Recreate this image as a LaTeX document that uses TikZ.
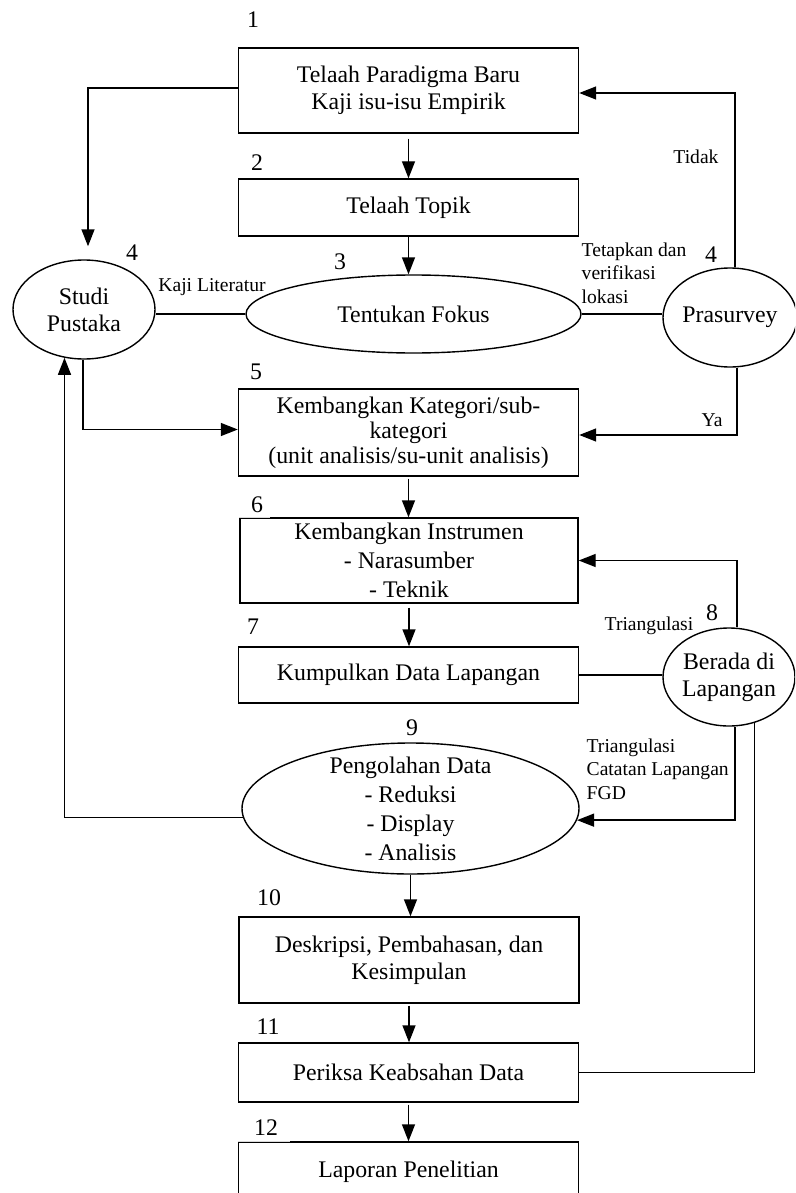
\documentclass[tikz,border=0pt]{standalone}
\usepackage{fontspec}
\setmainfont{Liberation Serif}
\usetikzlibrary{arrows.meta,shapes.geometric,calc}
\newcommand\mainf{\fontsize{23.8}{27}\selectfont}
\newcommand\smallf{\fontsize{19.6}{23.5}\selectfont}
\begin{document}
\begin{tikzpicture}[x=1pt,y=-1pt,line width=1.4pt,
  box/.style={draw,rectangle,minimum width=340pt,inner sep=0pt,align=center,font=\mainf},
  ell/.style={draw,ellipse,inner sep=0pt},
  etext/.style={inner sep=0pt,align=center,font=\mainf},
  num/.style={font=\mainf,inner sep=0pt},
  lbl/.style={font=\smallf,inner sep=0pt},
  arr/.style={-{Triangle[length=17pt,width=13pt]}},
  gapline/.style={draw=white,line width=1.8pt},
]
\useasboundingbox (0,0) rectangle (795,1193);
\clip (0,0) rectangle (795,1193);

% boxes
\node[box,minimum height=85pt] (b1) at (408.5,90.5) {Telaah Paradigma Baru\\Kaji isu-isu Empirik};
\node[box,minimum height=57pt] (b2) at (408.5,207.5) {Telaah Topik};
\node[box,minimum height=87pt,font=\fontsize{23.8}{25}\selectfont] (b5) at (408.5,432.5) {Kembangkan Kategori/sub-\\kategori\\(unit analisis/su-unit analisis)};
\node[box,minimum width=338pt,minimum height=85pt,font=\fontsize{23.8}{29}\selectfont] (b6) at (409,560.5) {Kembangkan Instrumen\\- Narasumber\\- Teknik};
\node[box,minimum height=56pt] (b7) at (408.5,675) {Kumpulkan Data Lapangan};
\node[box,minimum height=86pt] (b10) at (409,960) {Deskripsi, Pembahasan, dan\\Kesimpulan};
\node[box,minimum height=59pt] (b11) at (408.5,1072.5) {Periksa Keabsahan Data};
\node[box,minimum height=60pt] (b12) at (408.5,1172) {Laporan Penelitian};

% ellipses
\node[ell,minimum width=335pt,minimum height=78pt] (e3) at (413.5,314) {};
\node[etext] (e3t) at (e3) {Tentukan Fokus};
\node[ell,minimum width=142pt,minimum height=99pt] (sp) at (84,309.5) {};
\node[etext] (spt) at (sp) {Studi\\Pustaka};
\node[ell,minimum width=134pt,minimum height=99pt] (ps) at (730,317.5) {};
\node[etext] (pst) at (ps) {Prasurvey};
\node[ell,minimum width=132pt,minimum height=98pt] (bl) at (729,677) {};
\node[etext] (blt) at (bl) {Berada di\\Lapangan};
\node[ell,minimum width=337pt,minimum height=131pt] (pe) at (410.5,808.5) {};
\node[etext,font=\fontsize{23.8}{29}\selectfont] (pet) at (pe) {Pengolahan Data\\- Reduksi\\- Display\\- Analisis};

% border gaps behind numbers
\draw[gapline] (b6.north west) -- ++(31,0);
\draw[gray!30,line width=0.8pt] (b6.north west) -- ++(31,0);
\draw[gapline] (b12.north west) -- ++(52,0);
\draw[gray!30,line width=0.8pt] (b12.north west) -- ++(52,0);

% numbers
\node[num] (n1) at (253,20) {1};
\node[num] (n2) at (257,163) {2};
\node[num] (n3) at (340,262) {3};
\node[num] (n4a) at (132,253) {4};
\node[num] (n4b) at (711,255) {4};
\node[num] (n5) at (256,372) {5};
\node[num] (n6) at (257,505) {6};
\node[num] (n7) at (253,627) {7};
\node[num] (n8) at (712,613) {8};
\node[num] (n9) at (412,728) {9};
\node[num] (n10) at (269,898) {10};
\node[num] (n11) at (268,1027) {11};
\node[num] (n12) at (266,1128) {12};

% labels
\node[lbl] (lkaji) at (212,287) {Kaji Literatur};
\node[lbl,align=left,anchor=north west] (ltet) at (581,242) {Tetapkan dan\\verifikasi\\lokasi};
\node[lbl] (ltidak) at (696,157) {Tidak};
\node[lbl] (lya) at (712,420) {Ya};
\node[lbl] (ltri) at (649,626) {Triangulasi};
\node[lbl,align=left,anchor=north west] (ltri2) at (586,738) {Triangulasi\\Catatan Lapangan\\FGD};

% main flow
\draw[arr,shorten <=5pt] (b1.south) -- (b1.south |- b2.north);
\draw[arr] (b2.south) -- (b2.south |- e3.north);
\draw[arr,shorten <=2pt] (b5.south) -- (b5.south |- b6.north);
\draw[arr,shorten <=4pt] (b6.south) -- (b6.south |- b7.north);
\draw[arr] (pe.south) -- (pe.south |- b10.north);
\draw[arr,shorten <=2pt] (b10.south) -- (b10.south |- b11.north);
\draw[arr,shorten <=2pt] (b11.south) -- (b11.south |- b12.north);

% Studi Pustaka connections
\draw[arr,shorten >=13pt] ([yshift=2.5pt]b1.west) -| ([xshift=4pt]sp.north);
\draw (e3.west) -- (e3.west -| sp.east);
\draw[arr] ([xshift=-1pt]sp.south) |- ([yshift=3pt]b5.west);
\draw[arr] (pe.183) -| (sp.248);

% Prasurvey connections
\draw (e3.east) -- (e3.east -| ps.west);
\draw[arr] ([xshift=5pt]ps.north) |- ([yshift=-2.5pt]b1.east);
\draw[arr] ([xshift=7pt]ps.south) |- ([yshift=-2.5pt]b5.east);

% Berada di Lapangan connections
\draw (b7.east) -- (b7.east -| bl.west);
\draw[arr] ([xshift=8pt]bl.north) |- (b6.east);
\draw[arr] ([xshift=6pt]bl.south) |- (pe.-4);
\draw (bl.-61) |- (b11.east);
\end{tikzpicture}
\end{document}
